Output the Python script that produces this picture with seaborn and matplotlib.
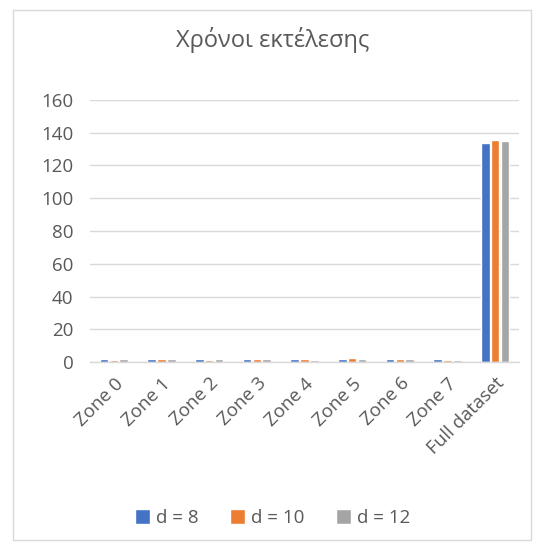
import matplotlib
matplotlib.use("Agg")
import matplotlib.pyplot as plt
import seaborn as sns
import pandas as pd
from matplotlib.patches import Rectangle

categories = ["Zone 0", "Zone 1", "Zone 2", "Zone 3", "Zone 4", "Zone 5", "Zone 6", "Zone 7", "Full dataset"]
d8 = [1.8, 1.8, 1.8, 1.8, 1.8, 1.8, 2.0, 1.8, 133.5]
d10 = [1.5, 1.8, 1.5, 1.8, 2.0, 2.2, 2.0, 1.5, 135.5]
d12 = [2.0, 1.8, 2.0, 1.8, 1.5, 1.8, 2.0, 1.5, 134.8]
series = ["d = 8", "d = 10", "d = 12"]
yticks = [0, 20, 40, 60, 80, 100, 120, 140, 160]

rows = []
for name, vals in zip(series, [d8, d10, d12]):
    for c, v in zip(categories, vals):
        rows.append({"zone": c, "series": name, "time": v})
df = pd.DataFrame(rows)

sns.set_theme(style="white")
plt.rcParams["font.family"] = ["Open Sans", "DejaVu Sans"]
text_col = "#595959"

fig = plt.figure(figsize=(5.45, 5.48), dpi=100)
ax = fig.add_axes([90 / 545, 1 - 362 / 548, (519 - 90) / 545, (362 - 100) / 548])

palette = ["#4472C4", "#ED7D31", "#A5A5A5"]
sns.barplot(data=df, x="zone", y="time", hue="series", palette=palette,
            ax=ax, width=0.62, gap=0.15, legend=True, saturation=1)

ax.set_xlim(-0.5, len(categories) - 0.5)
ax.set_ylim(0, 160)
ax.set_yticks(yticks)
ax.set_yticklabels([str(t) for t in yticks], fontsize=13.5, color=text_col)
ax.set_xticks(range(len(categories)))
ax.set_xticklabels(categories, rotation=45, ha="right", rotation_mode="anchor",
                   fontsize=13.5, color=text_col)
ax.tick_params(axis="y", length=0, pad=12)
ax.tick_params(axis="x", length=0, pad=9)
ax.set_xlabel("")
ax.set_ylabel("")
ax.grid(axis="y", color="#D9D9D9", linewidth=1)
ax.set_axisbelow(True)
for s in ["top", "right", "left"]:
    ax.spines[s].set_visible(False)
ax.spines["bottom"].set_color("#D9D9D9")
ax.spines["bottom"].set_linewidth(1)

fig.text(0.5, 1 - 40 / 548, "Χρόνοι εκτέλεσης", ha="center", va="center",
         fontsize=17, color=text_col)

handles, labels = ax.get_legend_handles_labels()
ax.legend_.remove()
fig.legend(handles, labels, loc="center", bbox_to_anchor=(0.5, 1 - 518 / 548),
           ncol=3, frameon=False, fontsize=13.5, labelcolor=text_col,
           handlelength=0.8, handleheight=0.8, handletextpad=0.3, columnspacing=1.7)

fig.patches.append(Rectangle((13 / 545, 1 - 540 / 548), (531 - 13) / 545, (540 - 10) / 548,
                             transform=fig.transFigure, fill=False,
                             edgecolor="#D9D9D9", linewidth=1))

fig.savefig("out.png", dpi=100, facecolor="white")
